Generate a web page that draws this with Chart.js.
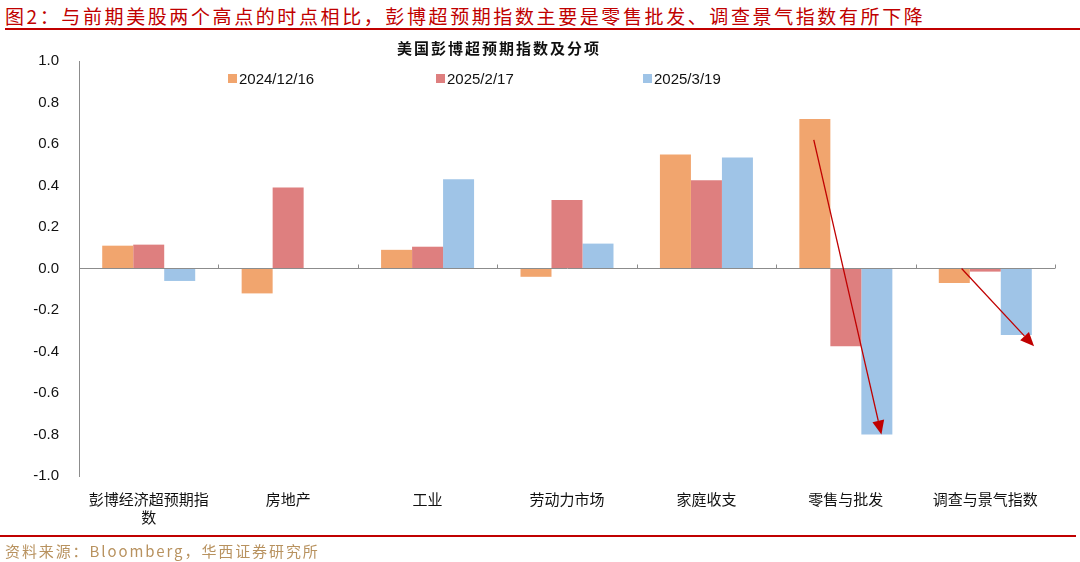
<!DOCTYPE html>
<html>
<head>
<meta charset="utf-8">
<script src="https://cdn.jsdelivr.net/npm/chart.js@4"></script>
<style>
  body { margin: 0; width: 1080px; height: 562px; position: relative; background: #fff; overflow: hidden; }
  #wrap { position: absolute; left: 0; top: 0; width: 1080px; height: 562px; }
  .hdr { position: absolute; left: 5px; top: 2px; font: 19px "Noto Sans CJK SC"; letter-spacing: 2.6px; color: #C00000; white-space: nowrap; }
  .rule { position: absolute; height: 2px; background: #C00000; }
  .ctitle { position: absolute; left: 397px; top: 37px; font: 600 15px "Noto Sans CJK SC"; letter-spacing: 2px; color: #111; white-space: nowrap; }
  .lg { position: absolute; top: 70px; font: 15px "Liberation Sans", Arial; color: #111; white-space: nowrap; }
  .lg i { display: inline-block; width: 9px; height: 9px; margin-right: 2px; vertical-align: 1px; }
  .src { position: absolute; left: 5px; top: 540px; font: 15px "Noto Sans CJK SC"; letter-spacing: 1.9px; color: #B8925F; white-space: nowrap; }
</style>
</head>
<body>
<div class="hdr">图2：与前期美股两个高点的时点相比，彭博超预期指数主要是零售批发、调查景气指数有所下降</div>
<div class="rule" style="left:5px; top:28px; width:1075px;"></div>
<div id="wrap"><canvas id="myChart"></canvas></div>
<div class="ctitle">美国彭博超预期指数及分项</div>
<div id="legend"></div>
<div class="rule" style="left:0; top:535px; width:1076px;"></div>
<div class="src">资料来源：Bloomberg，华西证券研究所</div>
<script>
const categories = [['彭博经济超预期指', '数'], '房地产', '工业', '劳动力市场', '家庭收支', '零售与批发', '调查与景气指数'];
const seriesNames = ['2024/12/16', '2025/2/17', '2025/3/19'];
const seriesColors = ['#F1A56E', '#DE7F7F', '#9FC4E7'];
const dec2024 = [0.11, -0.12, 0.09, -0.04, 0.55, 0.72, -0.07];
const feb2025 = [0.115, 0.39, 0.105, 0.33, 0.425, -0.375, -0.015];
const mar2025 = [-0.06, 0, 0.43, 0.12, 0.535, -0.80, -0.32];
const yTicks = [-1.0, -0.8, -0.6, -0.4, -0.2, 0.0, 0.2, 0.4, 0.6, 0.8, 1.0];
// arrows: category index, offset within category (fraction of width), value
const arrows = [
    { cat: 5, dx0: -0.23, v0: 0.62, dx1: 0.255, v1: -0.80 },
    { cat: 6, dx0: -0.17, v0: 0.0, dx1: 0.35, v1: -0.375 }
];
const legendX = [228, 436, 643];

// legend
const lg = document.getElementById('legend');
seriesNames.forEach((n, i) => {
    const d = document.createElement('div');
    d.className = 'lg';
    d.style.left = legendX[i] + 'px';
    d.innerHTML = '<i style="background:' + seriesColors[i] + '"></i>' + n;
    lg.appendChild(d);
});

const arrowPlugin = {
    id: 'arrows',
    afterDatasetsDraw(chart) {
        const { ctx, scales: { x, y } } = chart;
        const w = (x.right - x.left) / categories.length;
        ctx.save();
        ctx.strokeStyle = '#C00000';
        ctx.fillStyle = '#C00000';
        ctx.lineWidth = 1.3;
        arrows.forEach(a => {
            const x0 = x.getPixelForValue(a.cat) + a.dx0 * w, y0 = y.getPixelForValue(a.v0);
            const x1 = x.getPixelForValue(a.cat) + a.dx1 * w, y1 = y.getPixelForValue(a.v1);
            const ang = Math.atan2(y1 - y0, x1 - x0);
            const len = 14, hw = 6;
            const bx = x1 - len * Math.cos(ang), by = y1 - len * Math.sin(ang);
            ctx.beginPath();
            ctx.moveTo(x0, y0);
            ctx.lineTo(bx, by);
            ctx.stroke();
            ctx.beginPath();
            ctx.moveTo(x1, y1);
            ctx.lineTo(bx + hw * Math.sin(ang), by - hw * Math.cos(ang));
            ctx.lineTo(bx - hw * Math.sin(ang), by + hw * Math.cos(ang));
            ctx.closePath();
            ctx.fill();
        });
        // small category separator ticks on the zero line
        const y0 = y.getPixelForValue(0);
        ctx.strokeStyle = '#8c8c8c';
        ctx.lineWidth = 1;
        for (let i = 1; i <= categories.length; i++) {
            const px = Math.round(x.left + i * w) + 0.5;
            ctx.beginPath();
            ctx.moveTo(px, y0);
            ctx.lineTo(px, y0 - 4);
            ctx.stroke();
        }
        ctx.restore();
    }
};

const ctx = document.getElementById('myChart').getContext('2d');
const myChart = new Chart(ctx, {
    type: 'bar',
    data: {
        labels: categories,
        datasets: [
            { label: seriesNames[0], data: dec2024, backgroundColor: seriesColors[0] },
            { label: seriesNames[1], data: feb2025, backgroundColor: seriesColors[1] },
            { label: seriesNames[2], data: mar2025, backgroundColor: seriesColors[2] }
        ]
    },
    options: {
        responsive: true,
        maintainAspectRatio: false,
        animation: false,
        categoryPercentage: 0.667,
        barPercentage: 1.0,
        layout: { padding: { left: 0, right: 25, top: 61, bottom: 0 } },
        plugins: {
            legend: { display: false },
            title: { display: false },
            tooltip: { enabled: false }
        },
        scales: {
            x: {
                grid: { display: false },
                border: { display: false },
                ticks: {
                    color: '#111',
                    font: { family: 'Noto Sans CJK SC', size: 15 },
                    padding: 6,
                    maxRotation: 0
                },
                afterFit: s => { s.height = 86; }
            },
            y: {
                min: -1,
                max: 1,
                afterBuildTicks: s => { s.ticks = yTicks.map(v => ({ value: v })); },
                grid: {
                    color: c => (c.tick && c.tick.value === 0) ? '#8c8c8c' : 'transparent',
                    drawTicks: false,
                    lineWidth: 1
                },
                border: { display: true, color: '#8c8c8c' },
                ticks: {
                    color: '#111',
                    font: { family: 'Liberation Sans', size: 15 },
                    padding: 20,
                    callback: v => v.toFixed(1)
                },
                afterFit: s => { s.width = 79; }
            }
        }
    },
    plugins: [arrowPlugin]
});
</script>
</body>
</html>
